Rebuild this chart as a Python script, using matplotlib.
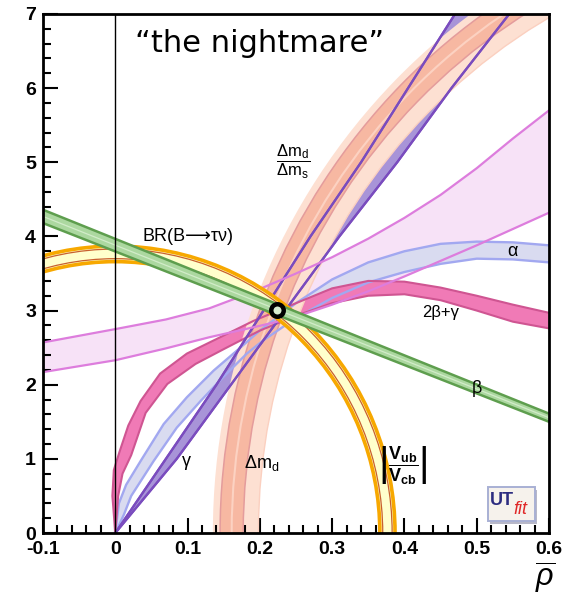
import matplotlib
matplotlib.use('Agg')
import matplotlib.pyplot as plt
from matplotlib.patches import Annulus, Circle, FancyBboxPatch
from matplotlib.transforms import Affine2D
from matplotlib.ticker import MultipleLocator, FixedLocator, FixedFormatter

plt.rcParams['font.family'] = ['Liberation Sans', 'DejaVu Sans']
plt.rcParams['mathtext.fontset'] = 'custom'
plt.rcParams['mathtext.rm'] = 'Liberation Sans'
plt.rcParams['mathtext.it'] = 'Liberation Sans:italic'
plt.rcParams['mathtext.bf'] = 'Liberation Sans:bold'
plt.rcParams['mathtext.sf'] = 'Liberation Sans'

# ---------------- data ----------------
ETA_SCALE = 10.0          # y axis shows eta-bar x 10

# |Vub/Vcb| ring around (0,0) in (rho, eta)
vub_radius = [0.366, 0.387]
vub_radius68 = [0.370, 0.383]
# Delta m_d ring around (1,0)
dmd_radius = [0.802, 0.865]
dmd_radius68 = [0.823, 0.855]
dmd_mid_radius = [0.839]

# beta band (straight, ends at the axis limits)
beta_x = [-0.1, 0.6]
beta_lo = [4.18, 1.50]
beta_hi = [4.36, 1.61]

# gamma band (from the origin)
gamma_l_x = [0.0, 0.070, 0.140, 0.205, 0.270, 0.340, 0.405, 0.470]
gamma_l_y = [0.0, 1.0, 2.0, 3.0, 4.0, 5.0, 6.0, 7.0]
gamma_r_x = [0.0, 0.085, 0.160, 0.235, 0.310, 0.390, 0.465, 0.545]
gamma_r_y = [0.0, 1.0, 2.0, 3.0, 4.0, 5.0, 6.0, 7.0]

# alpha band
alpha_u_x = [0.0, 0.005, 0.015, 0.035, 0.067, 0.099, 0.136, 0.173, 0.200, 0.250,
             0.300, 0.350, 0.400, 0.450, 0.500, 0.550, 0.600]
alpha_u_y = [0.0, 0.40, 0.65, 0.97, 1.47, 1.83, 2.19, 2.50, 2.73, 3.10,
             3.42, 3.65, 3.80, 3.90, 3.93, 3.92, 3.88]
alpha_l_x = [0.0, 0.012, 0.022, 0.053, 0.085, 0.118, 0.149, 0.182, 0.205, 0.250,
             0.300, 0.350, 0.400, 0.450, 0.500, 0.550, 0.600]
alpha_l_y = [0.0, 0.25, 0.50, 0.97, 1.42, 1.78, 2.10, 2.42, 2.60, 2.90,
             3.17, 3.38, 3.52, 3.63, 3.70, 3.69, 3.65]

# 2beta+gamma band
bg_u_x = [0.0, -0.004, -0.002, 0.006, 0.018, 0.035, 0.062, 0.099, 0.145, 0.191,
          0.250, 0.300, 0.350, 0.400, 0.450, 0.500, 0.550, 0.600]
bg_u_y = [0.0, 0.50, 0.85, 1.10, 1.45, 1.78, 2.15, 2.42, 2.64, 2.86,
          3.10, 3.30, 3.40, 3.39, 3.31, 3.20, 3.08, 2.97]
bg_l_x = [0.0, 0.004, 0.010, 0.022, 0.042, 0.072, 0.111, 0.154, 0.200, 0.250,
          0.300, 0.350, 0.400, 0.450, 0.500, 0.550, 0.600]
bg_l_y = [0.0, 0.50, 0.80, 1.05, 1.62, 2.01, 2.28, 2.50, 2.73, 2.93,
          3.10, 3.20, 3.22, 3.14, 3.00, 2.85, 2.76]

# light magenta (wide) band
mag_u_x = [-0.1, 0.0, 0.07, 0.13, 0.19, 0.25, 0.30, 0.35, 0.40, 0.45, 0.50, 0.55, 0.60]
mag_u_y = [2.57, 2.75, 2.88, 3.03, 3.25, 3.50, 3.72, 3.97, 4.25, 4.56, 4.92, 5.32, 5.70]
mag_l_x = [-0.1, 0.0, 0.07, 0.13, 0.18, 0.22, 0.26, 0.30, 0.35, 0.40, 0.45, 0.50, 0.55, 0.60]
mag_l_y = [2.17, 2.33, 2.49, 2.64, 2.75, 2.84, 2.95, 3.08, 3.26, 3.46, 3.67, 3.88, 4.10, 4.32]

best_x = [0.224]
best_y = [3.01]

xtick_vals = [-0.1, 0.0, 0.1, 0.2, 0.3, 0.4, 0.5, 0.6]
xtick_labels = ['-0.1', '0', '0.1', '0.2', '0.3', '0.4', '0.5', '0.6']
ytick_vals = [0, 1, 2, 3, 4, 5, 6, 7]
ytick_labels = ['0', '1', '2', '3', '4', '5', '6', '7']

# ---------------- figure ----------------
W, H = 572, 597
fig = plt.figure(figsize=(W / 100, H / 100), dpi=100)
ax = fig.add_axes([43 / W, 1 - 533 / H, (549 - 43) / W, (533 - 14) / H])
ax.set_xlim(-0.1, 0.6)
ax.set_ylim(0, 7)

eta_tr = Affine2D().scale(1, ETA_SCALE) + ax.transData


def band(xu, yu, xl, yl, fc, ec, lw, zf, zl):
    ax.fill(list(xu) + list(xl)[::-1], list(yu) + list(yl)[::-1],
            color=fc, lw=0, zorder=zf)
    ax.plot(xu, yu, color=ec, lw=lw, zorder=zl, solid_joinstyle='round')
    ax.plot(xl, yl, color=ec, lw=lw, zorder=zl, solid_joinstyle='round')


def ring(center, radii, fc, z):
    ax.add_patch(Annulus(center, radii[1], radii[1] - radii[0], fc=fc, ec='none',
                         transform=eta_tr, zorder=z))


def circ(center, r, ec, lw, z):
    ax.add_patch(Circle(center, r, fill=False, ec=ec, lw=lw, transform=eta_tr, zorder=z))


# light magenta band
band(mag_u_x, mag_u_y, mag_l_x, mag_l_y, '#f7e2f7', '#dd7ddd', 1.6, 1.0, 1.9)
# alpha band
band(alpha_u_x, alpha_u_y, alpha_l_x, alpha_l_y, '#d9dbf0', '#a2a8f0', 1.7, 1.1, 1.7)
# 2beta+gamma band
band(bg_u_x, bg_u_y, bg_l_x, bg_l_y, '#f07ab6', '#cf5592', 1.5, 1.2, 1.75)
# gamma band
band(gamma_l_x, gamma_l_y, gamma_r_x, gamma_r_y, '#a894d8', '#7a4cbe', 1.6, 1.3, 1.8)

# Delta m_d rings
ring((1.0, 0.0), dmd_radius, '#fde0d2', 1.5)
ring((1.0, 0.0), dmd_radius68, '#f7b8a2', 1.55)
for r in dmd_mid_radius:
    circ((1.0, 0.0), r, '#fcd2c2', 1.5, 1.6)
for r in dmd_radius68:
    circ((1.0, 0.0), r, '#e49c9c', 1.1, 1.6)
circ((1.0, 0.0), dmd_radius[0], '#fbd0c0', 1.0, 1.6)

# gamma edges stay visible on top of the rings
ax.plot(gamma_l_x, gamma_l_y, color='#7a4cbe', lw=1.6, zorder=1.8)
ax.plot(gamma_r_x, gamma_r_y, color='#7a4cbe', lw=1.6, zorder=1.8)

# |Vub/Vcb| ring
ring((0.0, 0.0), vub_radius, '#ffffcc', 2.0)
for r in vub_radius:
    circ((0.0, 0.0), r, '#f7a800', 2.6, 2.05)
for r in vub_radius68:
    circ((0.0, 0.0), r, '#c8602e', 0.9, 2.1)

# beta band
ax.fill_between(beta_x, beta_lo, beta_hi, color='#acd8a0', lw=0, zorder=2.2)
ax.plot(beta_x, [(a + b) / 2 for a, b in zip(beta_lo, beta_hi)], color='#d2ecc9', lw=0.9, zorder=2.25)
ax.plot(beta_x, beta_lo, color='#5e9e4e', lw=1.8, zorder=2.3)
ax.plot(beta_x, beta_hi, color='#5e9e4e', lw=1.8, zorder=2.3)

# rho = 0 line
ax.axvline(0.0, color='black', lw=1.0, zorder=2.5)

# best fit
ax.plot(best_x, best_y, 'o', ms=9, mfc='#d8ecd0', mec='black', mew=3.2, zorder=3)

# ---------------- text ----------------
ax.text(0.2, 6.6, '\u201cthe nightmare\u201d', fontsize=22, ha='center', va='center',
        family='DejaVu Sans', zorder=5)
ax.text(0.1, 4.0, 'BR(B\u27f6\u03c4\u03bd)', fontsize=13, ha='center', va='center', zorder=5)
ax.text(0.246, 5.01, r'$\dfrac{\mathrm{\Delta m_d}}{\mathrm{\Delta m_s}}$', fontsize=12,
        ha='center', va='center', zorder=5)
ax.text(0.549, 3.79, '\u03b1', fontsize=13, ha='center', va='center', zorder=5)
ax.text(0.45, 2.97, '2\u03b2+\u03b3', fontsize=12, ha='center', va='center', zorder=5)
ax.text(0.50, 1.95, '\u03b2', fontsize=13, ha='center', va='center', zorder=5)
ax.text(0.098, 0.96, '\u03b3', fontsize=13, ha='center', va='center', zorder=5)
ax.text(0.203, 0.95, r'$\mathrm{\Delta m_d}$', fontsize=13, ha='center', va='center', zorder=5)
ax.text(0.398, 0.92, r'$\left|\dfrac{\mathbf{V_{ub}}}{\mathbf{V_{cb}}}\right|$', fontsize=13,
        ha='center', va='center', zorder=5)

# UTfit logo
ax.add_patch(FancyBboxPatch((0.884, 0.018), 0.093, 0.064, boxstyle='square,pad=0',
                            transform=ax.transAxes, fc='#b8b8c8', ec='none', zorder=5))
ax.add_patch(FancyBboxPatch((0.879, 0.024), 0.093, 0.064, boxstyle='square,pad=0',
                            transform=ax.transAxes, fc='#f6f2ec', ec='#a8b0d4', lw=1.4, zorder=6))
ax.text(0.884, 0.063, 'UT', transform=ax.transAxes, fontsize=13, fontweight='bold',
        color='#2c2c80', ha='left', va='center', zorder=7)
ax.text(0.930, 0.045, 'fit', transform=ax.transAxes, fontsize=13, fontstyle='italic',
        color='#e02828', ha='left', va='center', zorder=7)

# ---------------- axes styling ----------------
ax.xaxis.set_major_locator(FixedLocator(xtick_vals))
ax.xaxis.set_major_formatter(FixedFormatter(xtick_labels))
ax.xaxis.set_minor_locator(MultipleLocator(0.02))
ax.yaxis.set_major_locator(FixedLocator(ytick_vals))
ax.yaxis.set_major_formatter(FixedFormatter(ytick_labels))
ax.yaxis.set_minor_locator(MultipleLocator(0.2))
ax.tick_params(which='both', direction='in', top=False, right=False, width=1.5)
ax.tick_params(which='major', length=11)
ax.tick_params(which='minor', length=6)
ax.tick_params(axis='x', pad=6)
ax.tick_params(axis='y', pad=5)
for lab in ax.get_xticklabels() + ax.get_yticklabels():
    lab.set_fontsize(14)
    lab.set_fontweight('bold')
for s in ax.spines.values():
    s.set_linewidth(2)
    s.set_zorder(10)

fig.text(545 / W, 1 - 578 / H, r'$\overline{\rho}$', fontsize=22, ha='center', va='center')

fig.savefig('out.png', dpi=100)
